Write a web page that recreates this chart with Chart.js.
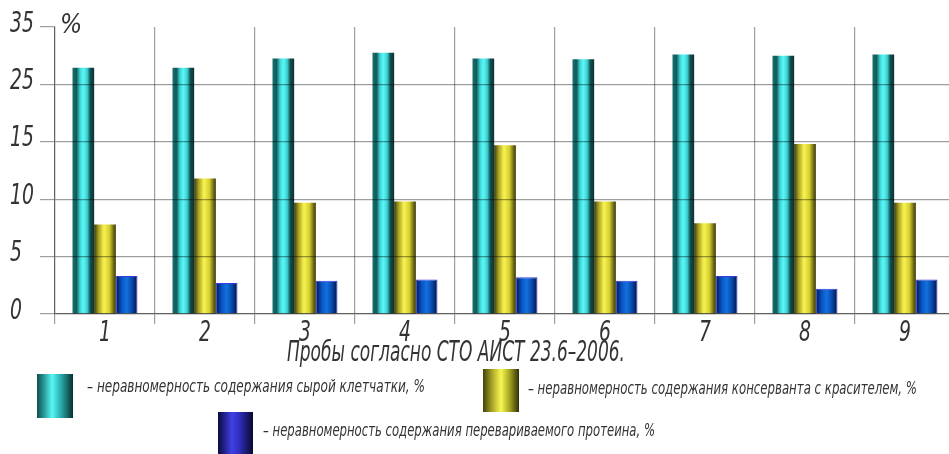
<!DOCTYPE html>
<html lang="ru">
<head>
<meta charset="utf-8">
<title>Неравномерность содержания компонентов</title>
<script src="https://cdn.jsdelivr.net/npm/chart.js@4.4.1/dist/chart.umd.min.js"></script>
<style>
  html, body { margin: 0; padding: 0; background: #fff; overflow: hidden; }
  #wrap { width: 960px; height: 454px; }
</style>
</head>
<body>
<div id="wrap"><canvas id="chart" width="960" height="454"></canvas></div>
<script>
const samples = ["1", "2", "3", "4", "5", "6", "7", "8", "9"];
const fiber = [27.9, 27.9, 29.5, 30.5, 29.5, 29.4, 30.2, 30.0, 30.2];
const preservative = [7.8, 11.8, 9.7, 9.8, 14.7, 9.8, 7.9, 14.8, 9.7];
const protein = [3.3, 2.7, 2.9, 3.0, 3.2, 2.9, 3.3, 2.2, 3.0];
const yTicks = [0, 5, 10, 15, 25, 35];
const seriesNames = [
  "– неравномерность содержания сырой клетчатки, %",
  "– неравномерность содержания консерванта с красителем, %",
  "– неравномерность содержания перевариваемого протеина, %"
];
const axisTitle = "Пробы согласно СТО АИСТ 23.6–2006.";

const FONT = "'Liberation Sans Narrow', 'DejaVu Sans Condensed', 'Roboto Condensed', 'Liberation Sans', sans-serif";
const INK = "#333";
const GRID = "rgba(0,0,0,0.38)";

// the value axis is uneven: 5 per division up to 15, then 10 per division
function toAxis(v) {
  for (let i = 0; i < yTicks.length - 1; i++) {
    if (v <= yTicks[i + 1]) return i + (v - yTicks[i]) / (yTicks[i + 1] - yTicks[i]);
  }
  return yTicks.length - 1;
}

// cylinder shading, left edge to right edge
const barStops = [
  [[0, "#177070"], [0.18, "#125858"], [0.35, "#3ed6d6"], [0.5, "#5cf6f6"], [0.68, "#3cd0d0"], [0.82, "#125050"], [1, "#0b3030"]],
  [[0, "#3a3808"], [0.2, "#a8a024"], [0.45, "#f8f450"], [0.7, "#d6d030"], [1, "#363406"]],
  [[0, "#001850"], [0.3, "#0a58c8"], [0.5, "#1470e0"], [0.75, "#0848a8"], [1, "#00103a"]]
];
const swatchStops = [
  [[0, "#0f4d4d"], [0.2, "#2a9a9a"], [0.42, "#58f6f6"], [0.65, "#2ab0b0"], [1, "#0a3030"]],
  [[0, "#40400a"], [0.25, "#a8a428"], [0.5, "#f8f850"], [0.75, "#a0a020"], [1, "#303008"]],
  [[0, "#0a0a40"], [0.4, "#4040e8"], [0.6, "#3030c0"], [1, "#080830"]]
];

// legend layout: swatch box and text line for each series
const legendBoxes = [[37, 374, 36, 44], [483, 369, 36, 43], [218, 412, 35, 42]];
const legendText = [[87, 388, 338], [528, 390, 389], [263, 432, 392]];

function hGradient(ctx, x0, x1, stops) {
  const g = ctx.createLinearGradient(x0, 0, x1, 0);
  stops.forEach(s => g.addColorStop(s[0], s[1]));
  return g;
}

// draw text with a horizontal squeeze; align is "left" or "center"
function squeezed(ctx, text, x, y, sx, align) {
  const w = ctx.measureText(text).width * sx;
  ctx.save();
  ctx.translate(align === "center" ? x - w / 2 : x, y);
  ctx.scale(sx, 1);
  ctx.fillText(text, 0, 0);
  ctx.restore();
}

// draw text stretched to a given width
function fitText(ctx, text, x, y, width) {
  squeezed(ctx, text, x, y, width / ctx.measureText(text).width, "left");
}

const shading = {
  id: "shading",
  afterDatasetsUpdate(chart) {
    const ctx = chart.ctx;
    chart.data.datasets.forEach((ds, i) => {
      chart.getDatasetMeta(i).data.forEach(bar => {
        const g = hGradient(ctx, bar.x - bar.width / 2, bar.x + bar.width / 2, barStops[i]);
        bar.options = Object.assign({}, bar.options, { backgroundColor: g });
      });
    });
  }
};

const annotations = {
  id: "annotations",
  afterDraw(chart) {
    const ctx = chart.ctx;
    const { x, y } = chart.scales;
    ctx.save();
    ctx.fillStyle = INK;
    ctx.textBaseline = "middle";
    ctx.textAlign = "left";

    // tick labels in a narrow drafting style
    ctx.font = "italic 29px " + FONT;
    yTicks.forEach((t, i) => squeezed(ctx, String(t), 10, y.getPixelForValue(i) - 3, 0.72, "left"));
    samples.forEach((s, i) => squeezed(ctx, s, x.getPixelForValue(i), 333, 0.72, "center"));

    ctx.font = "italic 26px " + FONT;
    ctx.fillText("%", 60, 26);
    ctx.font = "italic 29px " + FONT;
    fitText(ctx, axisTitle, 287, 353, 338);

    ctx.font = "italic 17px " + FONT;
    seriesNames.forEach((name, i) => {
      const [bx, by, bw, bh] = legendBoxes[i];
      ctx.fillStyle = hGradient(ctx, bx, bx + bw, swatchStops[i]);
      ctx.fillRect(bx, by, bw, bh);
      ctx.fillStyle = INK;
      const [tx, ty, tw] = legendText[i];
      fitText(ctx, name, tx, ty, tw);
    });
    ctx.restore();
  }
};

new Chart(document.getElementById("chart"), {
  type: "bar",
  data: {
    labels: samples,
    datasets: [fiber, preservative, protein].map((vals, i) => ({
      label: seriesNames[i],
      data: vals.map(toAxis),
      backgroundColor: "#888",
      borderColor: i === 2 ? "#3a3ae0" : "rgba(0,0,0,0)",
      borderWidth: i === 2 ? 1 : 0,
      categoryPercentage: 0.65,
      barPercentage: 1
    }))
  },
  options: {
    responsive: false,
    animation: false,
    events: [],
    layout: { padding: { left: 10, top: 27, right: 5, bottom: 0 } },
    plugins: { legend: { display: false }, tooltip: { enabled: false } },
    scales: {
      x: {
        grid: { color: GRID, lineWidth: 1.2, tickLength: 10, z: 1, offset: true },
        border: { color: GRID, width: 1.2, z: 1 },
        ticks: { display: false },
        afterFit(s) { s.height = 140; }
      },
      y: {
        min: 0,
        max: yTicks.length - 1,
        ticks: { stepSize: 1, display: false },
        grid: {
          color: c => (c.tick && c.tick.value === yTicks.length - 1) ? "rgba(0,0,0,0)" : GRID,
          tickColor: GRID,
          tickLength: 15,
          lineWidth: 1.2,
          z: 1
        },
        border: { color: GRID, width: 1.2, z: 1 },
        afterFit(s) { s.width = 45; }
      }
    }
  },
  plugins: [shading, annotations]
});
</script>
</body>
</html>
